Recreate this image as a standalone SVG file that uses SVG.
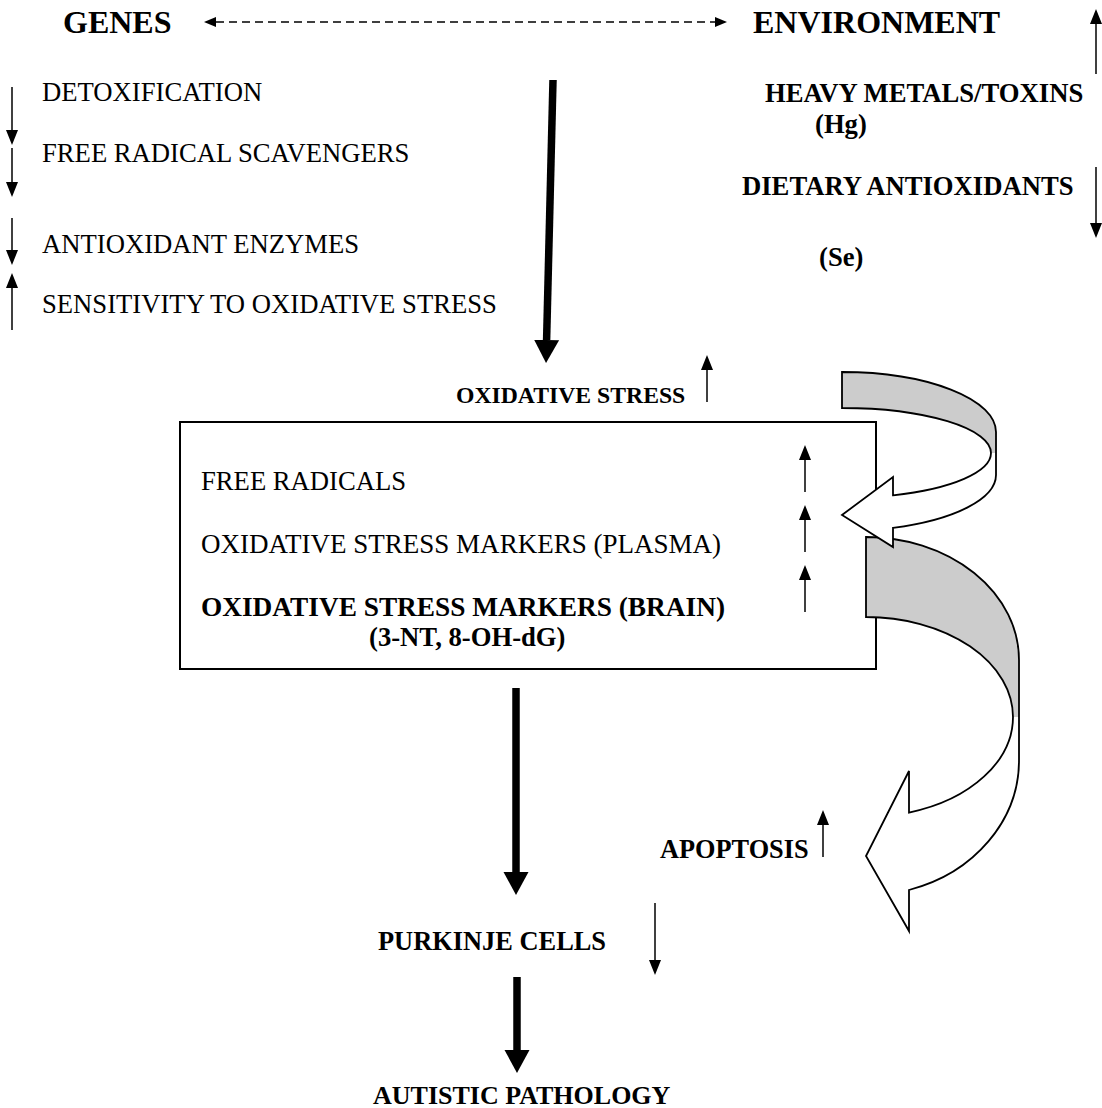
<svg xmlns="http://www.w3.org/2000/svg" width="1102" height="1108" viewBox="0 0 1102 1108">
<style>
text{font-family:"Liberation Serif","Times New Roman",serif;fill:#000}
.b{font-weight:bold}
.r{font-size:26.67px}
.big{font-size:32px;font-weight:bold}
.thin{stroke:#000;stroke-width:1.5;fill:none}
.thick{stroke:#000;stroke-width:7.5;fill:none}
.dash{stroke:#000;stroke-width:1.6;fill:none;stroke-dasharray:8 5}
.band{fill:#cccccc;stroke:none}
.edge{fill:none;stroke:#000;stroke-width:1.8;stroke-linejoin:miter}
.white{fill:#fff;stroke:#000;stroke-width:1.8}
</style>
<defs>
<marker id="ah" markerUnits="userSpaceOnUse" markerWidth="15" markerHeight="12" viewBox="0 -6 15 12" refX="0" refY="0" orient="auto"><path d="M0,-6 L15,0 L0,6 Z" fill="#000"/></marker>
<marker id="ahd" markerUnits="userSpaceOnUse" markerWidth="12" markerHeight="10" viewBox="0 -5 12 10" refX="0" refY="0" orient="auto-start-reverse"><path d="M0,-5 L12,0 L0,5 Z" fill="#000"/></marker>
<marker id="ahb" markerUnits="userSpaceOnUse" markerWidth="23" markerHeight="26" viewBox="0 -13 23 26" refX="0" refY="0" orient="auto"><path d="M0,-12.5 L23,0 L0,12.5 Z" fill="#000"/></marker>
</defs>

<g id="box">
<rect x="180" y="422" width="696" height="247" fill="#fff" stroke="#000" stroke-width="2"/>
</g>

<g id="connectors">
<line class="dash" x1="216" y1="22" x2="715" y2="22" marker-start="url(#ahd)" marker-end="url(#ahd)"/>
<line class="thin" x1="1096" y1="74" x2="1096" y2="24" marker-end="url(#ah)"/>
<line class="thin" x1="1096" y1="167" x2="1096" y2="223" marker-end="url(#ah)"/>
<line class="thin" x1="12" y1="87" x2="12" y2="130" marker-end="url(#ah)"/>
<line class="thin" x1="12" y1="148" x2="12" y2="182" marker-end="url(#ah)"/>
<line class="thin" x1="12" y1="218" x2="12" y2="250" marker-end="url(#ah)"/>
<line class="thin" x1="12" y1="330" x2="12" y2="288" marker-end="url(#ah)"/>
<line class="thick" x1="553" y1="80" x2="546.6" y2="340" marker-end="url(#ahb)"/>
<line class="thin" x1="707" y1="402" x2="707" y2="370" marker-end="url(#ah)"/>
<line class="thin" x1="805" y1="492" x2="805" y2="460" marker-end="url(#ah)"/>
<line class="thin" x1="805" y1="552" x2="805" y2="520" marker-end="url(#ah)"/>
<line class="thin" x1="805" y1="612" x2="805" y2="580" marker-end="url(#ah)"/>
<line class="thick" x1="516" y1="688" x2="516" y2="872" marker-end="url(#ahb)"/>
<line class="thin" x1="823" y1="857" x2="823" y2="825" marker-end="url(#ah)"/>
<line class="thin" x1="655" y1="903" x2="655" y2="960" marker-end="url(#ah)"/>
<line class="thick" x1="517" y1="977" x2="517" y2="1050" marker-end="url(#ahb)"/>
<g id="curved-lower">
<path class="band" d="M866,537 A153,123 0 0 1 1019,660 L1019,717 L1013,717 A147,100 0 0 0 866,617 Z"/>
<path class="edge" d="M1013,717 A147,100 0 0 0 866,617 L866,537 A153,123 0 0 1 1019,660 L1019,717"/>
<path class="white" d="M1013,717 A147,100 0 0 1 909,812.6 L909,771 L866,856 L909,931 L909,890 A153,135 0 0 0 1019,760 L1019,717"/>
</g>
<g id="curved-upper">
<path class="band" d="M842,372 A154,60 0 0 1 996,432 L996,453 L991,453 A149,45 0 0 0 842,408 Z"/>
<path class="edge" d="M991,453 A149,45 0 0 0 842,408 L842,372 A154,60 0 0 1 996,432 L996,453"/>
<path class="white" d="M991,453 A149,45 0 0 1 893,495.3 L893,477 L842,515 L893,547 L893,527.8 A154,56 0 0 0 996,475 L996,453"/>
</g>
</g>

<g id="genes"><text class="big" x="63" y="33">GENES</text></g>
<g id="environment"><text class="big" x="753" y="33">ENVIRONMENT</text></g>
<g id="heavy-metals"><text class="b r" x="765" y="102">HEAVY METALS/TOXINS</text><text class="b r" x="815" y="133">(Hg)</text></g>
<g id="dietary"><text class="b r" x="742" y="195">DIETARY ANTIOXIDANTS</text><text class="b r" x="819" y="266">(Se)</text></g>
<g id="detox"><text class="r" x="42" y="101">DETOXIFICATION</text></g>
<g id="scavengers"><text class="r" x="42" y="162">FREE RADICAL SCAVENGERS</text></g>
<g id="enzymes"><text class="r" x="42" y="253">ANTIOXIDANT ENZYMES</text></g>
<g id="sensitivity"><text class="r" x="42" y="313">SENSITIVITY TO OXIDATIVE STRESS</text></g>
<g id="oxidative-stress"><text class="b" x="456" y="403" font-size="23.7">OXIDATIVE STRESS</text></g>
<g id="box-text">
<text class="r" x="201" y="490">FREE RADICALS</text>
<text class="r" x="201" y="553" textLength="520" lengthAdjust="spacingAndGlyphs">OXIDATIVE STRESS MARKERS (PLASMA)</text>
<text class="b r" x="201" y="616" textLength="524" lengthAdjust="spacingAndGlyphs">OXIDATIVE STRESS MARKERS (BRAIN)</text>
<text class="b r" x="369" y="646">(3-NT, 8-OH-dG)</text>
</g>
<g id="apoptosis"><text class="b" x="660" y="858" font-size="26.3">APOPTOSIS</text></g>
<g id="purkinje"><text class="b" x="378" y="950" font-size="26.4">PURKINJE CELLS</text></g>
<g id="autistic"><text class="b" x="373" y="1104" font-size="26">AUTISTIC PATHOLOGY</text></g>
</svg>
